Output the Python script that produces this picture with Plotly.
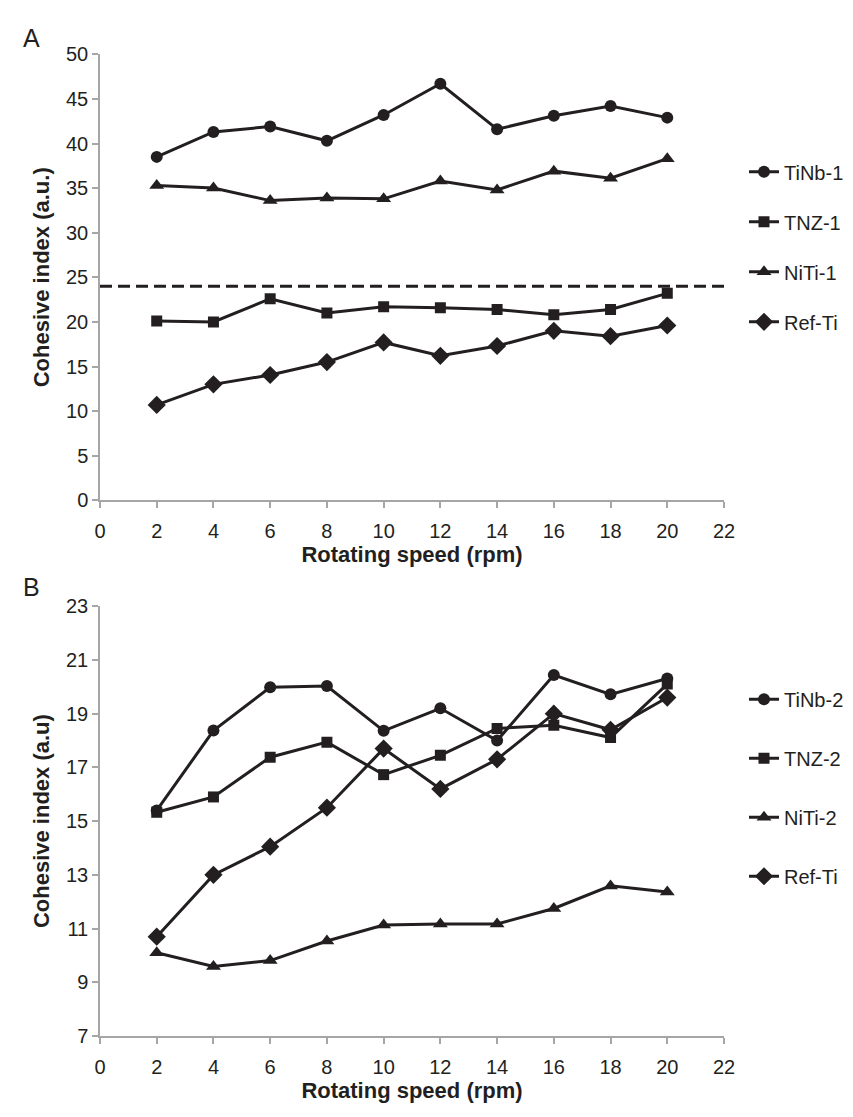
import plotly.graph_objects as go

# ---- data ----
speed = [2, 4, 6, 8, 10, 12, 14, 16, 18, 20]

tinb1 = [38.5, 41.3, 41.9, 40.3, 43.2, 46.7, 41.6, 43.1, 44.2, 42.9]
tnz1 = [20.1, 20.0, 22.6, 21.0, 21.7, 21.6, 21.4, 20.8, 21.4, 23.2]
niti1 = [35.3, 35.0, 33.6, 33.9, 33.8, 35.8, 34.8, 36.9, 36.1, 38.3]
refti = [10.7, 13.0, 14.05, 15.5, 17.7, 16.2, 17.3, 19.0, 18.4, 19.6]

tinb2 = [15.4, 18.37, 19.98, 20.03, 18.36, 19.2, 18.0, 20.44, 19.72, 20.31]
tnz2 = [15.33, 15.9, 17.38, 17.94, 16.73, 17.45, 18.45, 18.57, 18.11, 20.1]
niti2 = [10.1, 9.59, 9.81, 10.54, 11.13, 11.17, 11.17, 11.75, 12.59, 12.36]

threshold_a = 24

names_a = ["TiNb-1", "TNZ-1", "NiTi-1", "Ref-Ti"]
names_b = ["TiNb-2", "TNZ-2", "NiTi-2", "Ref-Ti"]
series_a = [tinb1, tnz1, niti1, refti]
series_b = [tinb2, tnz2, niti2, refti]

symbols = ["circle", "square", "triangle-up", "diamond"]
sizes = [12, 11, 13, 14]

INK = "#231f20"
AXIS = "#a6a6a6"
TXT = "#231f20"
FONT = "Liberation Sans, Arial, Helvetica, sans-serif"

W, H = 853.0, 1117.0
L, R = 92.0, 716.0
a_top, a_bot = 36.0, 491.0
b_top, b_bot = 599.0, 1037.5


def px_x(px):
    return (px - L) / (R - L)


def px_y(py):
    return 1 - py / H


fig = go.Figure()

for i, (nm, ys) in enumerate(zip(names_a, series_a)):
    fig.add_trace(go.Scatter(
        x=speed, y=ys, name=nm, mode="lines+markers",
        line=dict(color=INK, width=3),
        marker=dict(symbol=symbols[i], size=sizes[i], color=INK),
        xaxis="x", yaxis="y", legend="legend", legendgroup="a%d" % i,
    ))

for i, (nm, ys) in enumerate(zip(names_b, series_b)):
    fig.add_trace(go.Scatter(
        x=speed, y=ys, name=nm, mode="lines+markers",
        line=dict(color=INK, width=3),
        marker=dict(symbol=symbols[i], size=sizes[i], color=INK),
        xaxis="x2", yaxis="y2", legend="legend2", legendgroup="b%d" % i,
    ))

# dashed reference line in panel A
fig.add_shape(type="line", xref="x domain", yref="y", x0=0, x1=1,
              y0=threshold_a, y1=threshold_a,
              line=dict(color=INK, width=3, dash="12px,6px"))

common_x = dict(range=[0, 22], dtick=2, tick0=0, showline=True, linecolor=AXIS,
                linewidth=1.5, ticks="outside", tickcolor=AXIS, ticklen=6,
                tickwidth=1.5, showgrid=False, zeroline=False,
                ticklabelstandoff=6,
                tickfont=dict(size=20, color=TXT),
                title=dict(text="<b>Rotating speed (rpm)</b>",
                           font=dict(size=22, color=TXT), standoff=4))
common_y = dict(showline=True, linecolor=AXIS, linewidth=1.5, ticks="outside",
                tickcolor=AXIS, ticklen=6, tickwidth=1.5, showgrid=False,
                zeroline=False, tickfont=dict(size=20, color=TXT))

fig.update_layout(
    width=853, height=1117,
    margin=dict(l=L, r=W - R, t=0, b=0),
    paper_bgcolor="white", plot_bgcolor="white",
    font=dict(family=FONT, color=TXT),
    xaxis=dict(common_x, anchor="y", domain=[0, 1]),
    yaxis=dict(common_y, range=[0, 50], dtick=5, anchor="x",
               domain=[px_y(a_bot), px_y(a_top)],
               title=dict(text="<b>Cohesive index (a.u.)</b>",
                          font=dict(size=22, color=TXT), standoff=10)),
    xaxis2=dict(common_x, anchor="y2", domain=[0, 1]),
    yaxis2=dict(common_y, range=[7, 23], dtick=2, tick0=7, anchor="x2",
                domain=[px_y(b_bot), px_y(b_top)],
                title=dict(text="<b>Cohesive index (a.u)</b>",
                           font=dict(size=22, color=TXT), standoff=10)),
    legend=dict(x=px_x(736), y=px_y(136), xanchor="left", yanchor="top",
                yref="paper", font=dict(size=20, color=TXT), tracegroupgap=21,
                bgcolor="rgba(0,0,0,0)"),
    legend2=dict(x=px_x(736), y=px_y(674), xanchor="left", yanchor="top",
                 yref="paper", font=dict(size=20, color=TXT), tracegroupgap=30,
                 bgcolor="rgba(0,0,0,0)"),
    showlegend=True,
    annotations=[
        dict(text="A", x=px_x(13), y=px_y(19), xref="paper", yref="paper",
             showarrow=False, xanchor="left", yanchor="middle",
             font=dict(size=25, color=TXT)),
        dict(text="B", x=px_x(13), y=px_y(579), xref="paper", yref="paper",
             showarrow=False, xanchor="left", yanchor="middle",
             font=dict(size=25, color=TXT)),
    ],
)

fig.write_html("out.html")
